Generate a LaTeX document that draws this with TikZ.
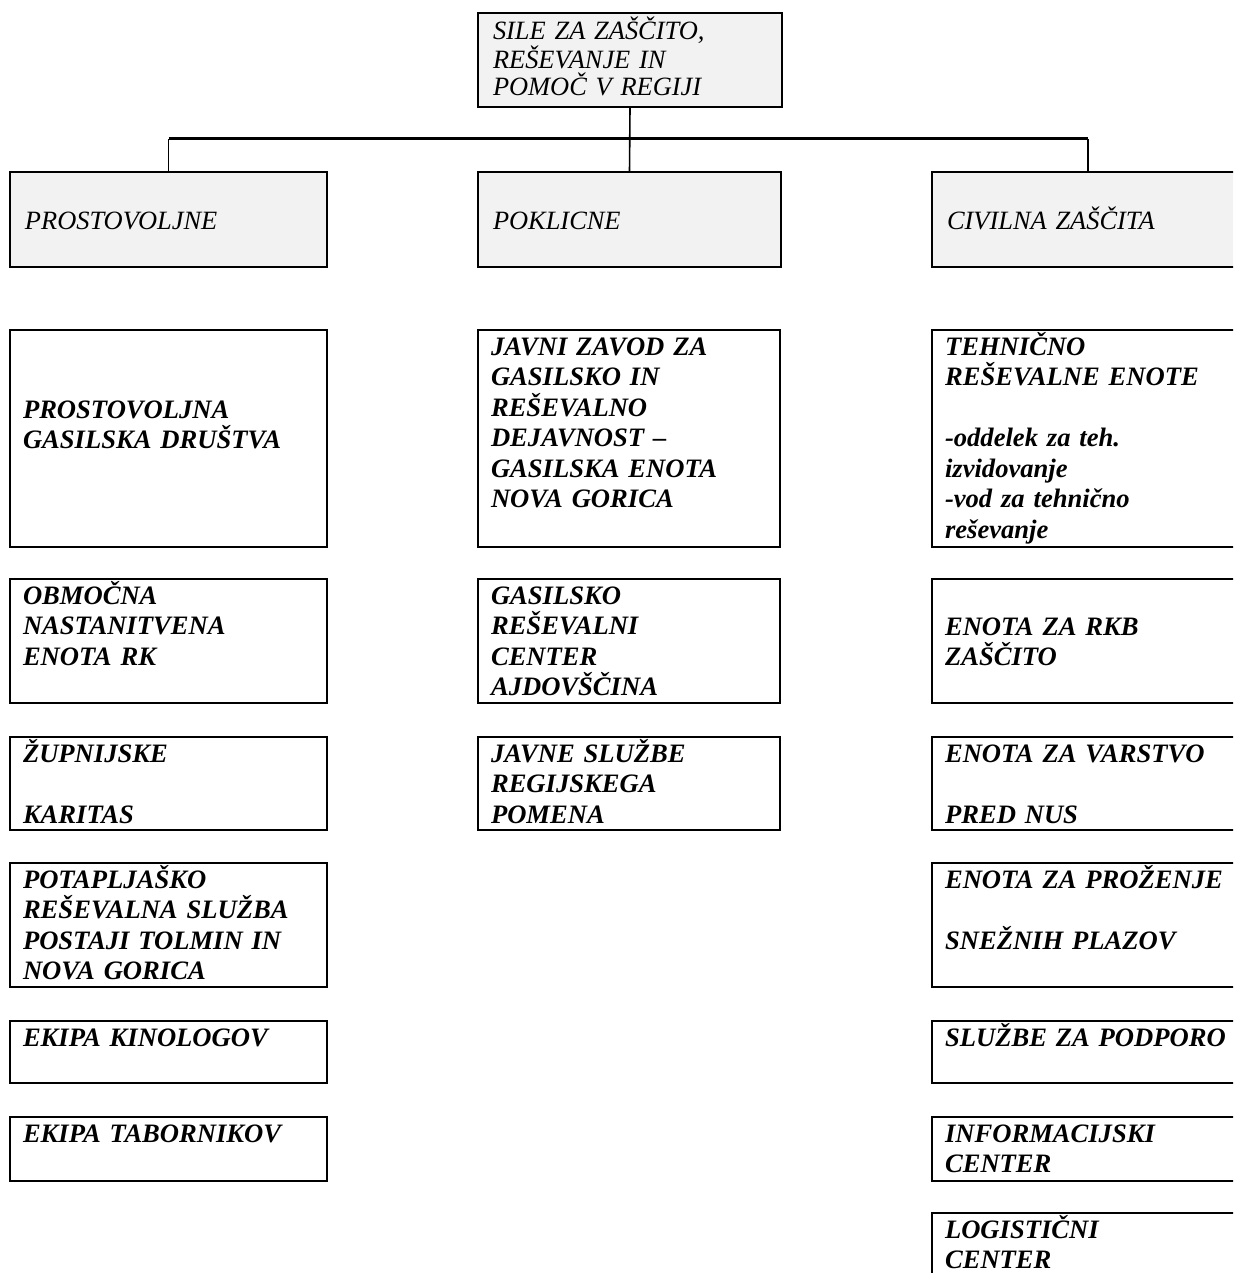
\documentclass[tikz,border=0pt]{standalone}
\usepackage{fontspec}
\setmainfont{Liberation Serif}
\usepackage{xcolor}
\usetikzlibrary{shapes}

\tikzset{
	head/.style={draw,line width=0.8pt,fill=gray!10,anchor=north west,outer sep=0pt,
		inner ysep=0pt,inner xsep=7.5pt,align=left,
		font=\fontsize{13.2pt}{13.25pt}\selectfont\itshape},
	unit/.style={draw,line width=1.1pt,anchor=north west,outer sep=0pt,
		inner ysep=0pt,inner xsep=6.5pt,align=left,text height=12.5pt,
		font=\fontsize{13.3pt}{15.25pt}\selectfont\bfseries\itshape},
	wire/.style={line width=0.8pt},
	bus/.style={line width=1.5pt},
}

\begin{document}
\begin{tikzpicture}[x=0.5pt,y=-0.5pt]
\useasboundingbox (0,0) rectangle (1233,1273);
\clip (0,0) rectangle (1233,1273);

%
\node[head,text width=137pt,text height=13.5pt,text depth=33.5pt] (sile) at (478,13) {SILE ZA ZAŠČITO,\\REŠEVANJE IN\\POMOČ V REGIJI};

\node[head,text width=143.5pt,text height=28.5pt,text depth=19pt] (prost) at (10,172) {PROSTOVOLJNE};
\node[head,text width=136.5pt,text height=28.5pt,text depth=19pt] (pokl) at (478,172) {POKLICNE};
\node[head,text width=141pt,text height=28.5pt,text depth=19pt] (civ) at (932,172) {CIVILNA ZAŠČITA};

\coordinate (bus) at (630,139);
\draw[wire] (sile.south) -- (pokl.north);
\draw[wire] (prost.north) -- (prost.north |- bus);
\draw[wire] (civ.north) -- (civ.north |- bus);
\draw[bus] (prost.north |- bus) -- (civ.north |- bus);

% prostovoljne
\node[unit,text width=145.5pt,text height=44pt,text depth=64.5pt] (pgd) at (10,330) {PROSTOVOLJNA\\GASILSKA DRUŠTVA};
\node[unit,text width=145.5pt,text depth=49.5pt] (rk) at (10,579) {OBMOČNA\\NASTANITVENA\\ENOTA RK};
\node[unit,text width=145.5pt,text depth=34pt] (karitas) at (10,737) {ŽUPNIJSKE\\[15.25pt]KARITAS};
\node[unit,text width=145.5pt,text depth=49.5pt] (potap) at (10,863) {POTAPLJAŠKO\\REŠEVALNA SLUŽBA\\POSTAJI TOLMIN IN\\NOVA GORICA};
\node[unit,text width=145.5pt,text depth=18.5pt] (kino) at (10,1021) {EKIPA KINOLOGOV};
\node[unit,text width=145.5pt,text depth=19.5pt] (tabor) at (10,1117) {EKIPA TABORNIKOV};

% poklicne
\node[unit,text width=138pt,text depth=96pt] (jzgrd) at (478,330) {JAVNI ZAVOD ZA\\GASILSKO IN\\REŠEVALNO\\DEJAVNOST –\\GASILSKA ENOTA\\NOVA GORICA};
\node[unit,text width=138pt,text depth=49.5pt] (grc) at (478,579) {GASILSKO\\REŠEVALNI\\CENTER\\AJDOVŠČINA};
\node[unit,text width=138pt,text depth=34pt] (jsrp) at (478,737) {JAVNE SLUŽBE\\REGIJSKEGA\\POMENA};

% civilna zascita
\node[unit,text width=143pt,text depth=96pt] (tre) at (932,330) {TEHNIČNO\\REŠEVALNE ENOTE\\[15.25pt]-oddelek za teh.\\izvidovanje\\-vod za tehnično\\reševanje};
\node[unit,text width=143pt,text height=28pt,text depth=34pt] (rkb) at (932,579) {ENOTA ZA RKB\\ZAŠČITO};
\node[unit,text width=143pt,text depth=34pt] (nus) at (932,737) {ENOTA ZA VARSTVO\\[15.25pt]PRED NUS};
\node[unit,text width=143pt,text depth=49.5pt] (plaz) at (932,863) {ENOTA ZA PROŽENJE\\[15.25pt]SNEŽNIH PLAZOV};
\node[unit,text width=143pt,text depth=18.5pt] (podp) at (932,1021) {SLUŽBE ZA PODPORO};
\node[unit,text width=143pt,text depth=19.5pt] (ic) at (932,1117) {INFORMACIJSKI\\CENTER};
\node[unit,text width=143pt,text depth=40pt] (lc) at (932,1213) {LOGISTIČNI\\CENTER};

\end{tikzpicture}
\end{document}
